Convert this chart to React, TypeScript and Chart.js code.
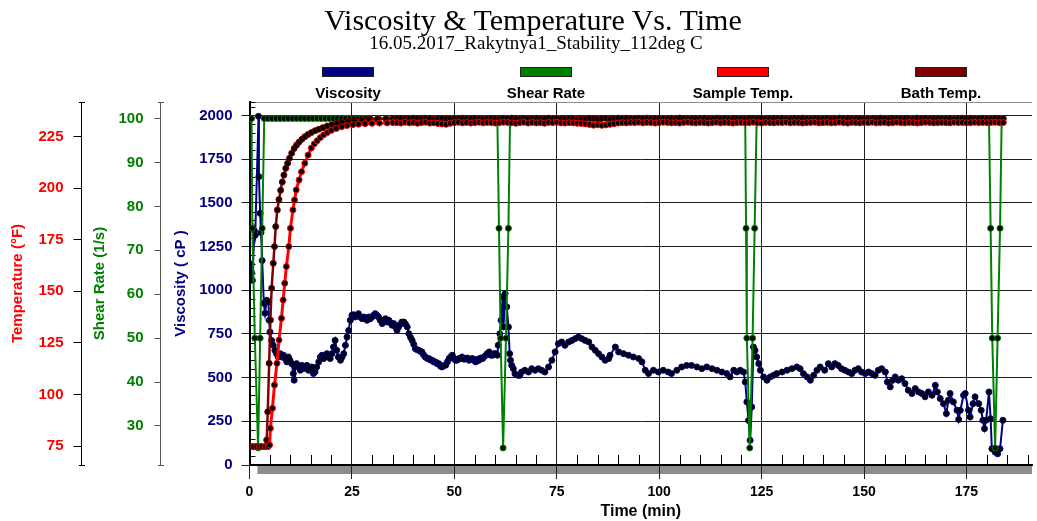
import React, { useEffect, useRef } from 'react';
import { Chart, registerables } from 'chart.js';
Chart.register(...registerables);

// ---------- tick labels ----------
const timeTicks = [0, 25, 50, 75, 100, 125, 150, 175];
const viscTicks = [0, 250, 500, 750, 1000, 1250, 1500, 1750, 2000];
const shearTicks = [30, 40, 50, 60, 70, 80, 90, 100];
const tempTicks = [75, 100, 125, 150, 175, 200, 225];

// ---------- Viscosity (cP) ----------
const viscTimes = [
  0.4, 0.5, 0.7, 1.2, 1.4, 2.2, 2.3, 2.6, 2.8, 3.1,
  3.5, 3.8, 4.2, 4.6, 4.8, 5.0, 5.4, 5.8, 6.2, 6.6,
  7.0, 7.5, 7.9, 8.3, 8.7, 9.1, 9.5, 9.9, 10.3, 10.7,
  10.9, 11.1, 11.5, 12.0, 12.4, 12.8, 13.2, 13.6, 14.0, 14.4,
  14.8, 15.2, 15.6, 16.0, 16.4, 16.9, 17.3, 17.7, 18.1, 18.5,
  18.9, 19.3, 19.7, 20.1, 20.5, 20.9, 21.3, 21.7, 22.2, 22.6,
  23.0, 23.4, 23.8, 24.2, 24.6, 25.0, 25.4, 25.8, 26.2, 26.6,
  27.0, 27.5, 27.9, 28.3, 28.7, 29.1, 29.5, 29.9, 30.3, 30.7,
  31.1, 31.5, 31.9, 32.4, 32.8, 33.2, 33.6, 34.0, 34.4, 34.8,
  35.2, 35.6, 36.0, 36.4, 36.8, 37.2, 37.7, 38.1, 38.5, 38.9,
  39.3, 39.7, 40.1, 40.5, 40.9, 41.3, 41.7, 42.1, 42.5, 42.9,
  43.4, 43.8, 44.2, 44.6, 45.0, 45.4, 45.8, 46.2, 46.6, 47.0,
  47.4, 47.9, 48.3, 48.7, 49.1, 49.5, 49.9, 50.3, 50.7, 51.1,
  51.5, 51.9, 52.4, 52.8, 53.2, 53.6, 54.0, 54.4, 54.8, 55.2,
  55.6, 56.0, 56.4, 56.9, 57.2, 57.7, 58.0, 58.5, 58.9, 59.3,
  59.7, 60.1, 60.5, 60.7, 61.1, 61.4, 61.8, 62.0, 62.4, 62.8,
  63.2, 63.5, 63.7, 64.0, 64.4, 64.8, 65.6, 66.0, 66.4, 67.2,
  68.1, 68.9, 69.7, 70.5, 71.3, 72.1, 73.0, 73.8, 74.6, 75.4,
  76.2, 77.0, 77.9, 78.7, 79.5, 80.3, 81.1, 81.9, 82.8, 83.6,
  84.4, 85.2, 86.0, 86.8, 87.7, 88.0, 89.3, 90.1, 91.3, 92.5,
  93.7, 95.0, 95.8, 96.6, 97.4, 98.6, 99.8, 101.0, 102.2, 103.0,
  104.3, 105.5, 106.7, 107.9, 109.2, 110.4, 111.6, 112.9, 114.1, 115.3,
  116.5, 117.3, 118.2, 119.0, 119.8, 120.6, 121.0, 121.4, 121.8, 122.2,
  122.6, 123.0, 123.4, 123.8, 124.3, 124.7, 125.5, 126.3, 127.1, 127.9,
  128.7, 130.0, 131.2, 132.4, 133.6, 134.4, 135.2, 136.1, 136.9, 137.7,
  138.5, 139.3, 140.4, 141.3, 142.1, 142.9, 143.7, 144.5, 145.3, 146.2,
  147.0, 147.8, 148.6, 149.4, 150.3, 151.1, 151.9, 152.7, 153.5, 154.3,
  155.2, 155.7, 156.4, 157.0, 157.6, 158.4, 159.2, 160.0, 160.8, 161.7,
  162.5, 163.3, 164.1, 164.9, 165.7, 166.6, 167.4, 167.9, 168.6, 169.4,
  170.1, 170.6, 171.0, 171.8, 172.7, 173.1, 173.5, 174.3, 174.7, 175.5,
  175.9, 176.6, 177.1, 178.0, 178.6, 179.0, 179.4, 179.8, 180.5, 180.9,
  181.2, 182.0, 182.6, 183.2, 183.9,
];
const viscValues = [
  1150, 1100, 1057, 1340, 1315, 1995, 1650, 1440, 1330, 1170,
  925, 868, 943, 933, 828, 761, 713, 685, 656, 637,
  618, 637, 618, 628, 609, 590, 618, 599, 580, 523,
  485, 561, 580, 561, 542, 570, 552, 561, 570, 542,
  552, 561, 523, 533, 561, 590, 618, 628, 609, 618,
  637, 628, 609, 637, 675, 713, 656, 618, 599, 618,
  637, 685, 732, 770, 828, 857, 860, 847, 857, 866,
  847, 837, 847, 837, 828, 847, 837, 847, 857, 866,
  857, 847, 828, 809, 828, 837, 818, 828, 815, 800,
  809, 790, 771, 790, 805, 818, 818, 805, 790, 751,
  730, 713, 690, 665, 660, 656, 650, 647, 630, 618,
  609, 609, 600, 599, 590, 590, 580, 580, 565, 561,
  570, 571, 590, 609, 618, 628, 609, 599, 600, 609,
  609, 618, 605, 609, 612, 599, 605, 609, 599, 590,
  605, 599, 612, 609, 618, 628, 637, 647, 628, 628,
  637, 637, 628, 685, 751, 828, 962, 790, 981, 905,
  790, 637, 599, 570, 551, 522, 513, 513, 532, 542,
  532, 551, 542, 551, 542, 532, 561, 599, 647, 694,
  704, 685, 704, 713, 723, 732, 723, 713, 704, 675,
  656, 637, 618, 599, 609, 628, 675, 647, 637, 628,
  618, 609, 590, 542, 523, 542, 532, 542, 532, 523,
  542, 561, 570, 570, 561, 551, 561, 551, 542, 532,
  523, 504, 542, 532, 542, 532, 475, 361, 255, 141,
  332, 675, 656, 618, 580, 542, 504, 485, 504, 513,
  523, 532, 542, 551, 561, 551, 523, 504, 485, 513,
  542, 561, 542, 580, 561, 580, 570, 551, 542, 532,
  523, 542, 551, 532, 523, 532, 523, 513, 542, 551,
  532, 475, 447, 485, 504, 485, 494, 466, 428, 409,
  437, 418, 409, 390, 418, 399, 456, 418, 380, 351,
  294, 371, 409, 361, 313, 261, 313, 399, 409, 313,
  275, 351, 390, 351, 313, 256, 208, 256, 418, 265,
  93, 74, 64, 93, 256,
];

// ---------- Shear Rate (1/s) ----------
const shearTimes = [
  0.5, 0.7, 1.3, 2.1, 2.6, 3.1, 3.6,
  4.5, 5.5, 6.5, 7.5, 8.5, 9.5, 10.5, 11.5, 12.5, 13.5,
  14.5, 15.5, 16.5, 17.5, 18.5, 19.5, 20.5, 21.5, 22.5, 23.5,
  24.5, 25.5, 26.5, 27.5, 28.5, 29.5,
  31.5, 33.5, 35.5, 37.5, 39.5, 41.5, 43.5, 45.5, 47.5, 49.5,
  51.5, 53.5, 55.5, 57.5, 59.5,
  60.5, 60.9, 61.3, 61.9, 62.6, 63.2, 63.6,
  65.5, 67.5, 69.5, 71.5, 73.5, 75.5, 77.5, 79.5, 81.5, 83.5,
  85.5, 87.5, 89.5, 91.5, 93.5, 95.5, 97.5, 99.5, 101.5, 103.5,
  105.5, 107.5, 109.5, 111.5, 113.5, 115.5, 117.5, 119.5,
  121.0, 121.2, 121.4, 122.1, 122.8, 123.3, 123.8,
  125.5, 127.5, 129.5, 131.5, 133.5, 135.5, 137.5, 139.5, 141.5, 143.5,
  145.5, 147.5, 149.5, 151.5, 153.5, 155.5, 157.5, 159.5, 161.5, 163.5,
  165.5, 167.5, 169.5, 171.5, 173.5, 175.5, 177.5, 179.5,
  180.5, 180.9, 181.3, 182.0, 182.6, 183.2, 183.6,
];
const shearValues = [
  100, 75, 50, 25, 50, 75, 100,
  100, 100, 100, 100, 100, 100, 100, 100, 100, 100,
  100, 100, 100, 100, 100, 100, 100, 100, 100, 100,
  100, 100, 100, 100, 100, 100,
  100, 100, 100, 100, 100, 100, 100, 100, 100, 100,
  100, 100, 100, 100, 100,
  100, 75, 50, 25, 50, 75, 100,
  100, 100, 100, 100, 100, 100, 100, 100, 100, 100,
  100, 100, 100, 100, 100, 100, 100, 100, 100, 100,
  100, 100, 100, 100, 100, 100, 100, 100,
  100, 75, 50, 25, 50, 75, 100,
  100, 100, 100, 100, 100, 100, 100, 100, 100, 100,
  100, 100, 100, 100, 100, 100, 100, 100, 100, 100,
  100, 100, 100, 100, 100, 100, 100, 100,
  100, 75, 50, 25, 50, 75, 100,
];

// ---------- Temperatures (°F) ----------
const sampleRiseTimes = [
  0.3, 1.0, 1.7, 2.4, 3.1, 3.8, 4.5,
  4.9, 5.1, 5.6, 6.1, 6.7, 7.2, 7.8, 8.2, 8.6, 9.0,
  9.6, 10.0, 10.6, 11.0, 11.4, 12.1, 12.7, 13.5, 14.3, 15.1,
  15.8, 16.5, 17.3, 18.1, 19.0, 20.0, 21.2, 22.5, 23.8, 25.2,
  26.6, 28.2, 29.9, 31.7, 33.6, 35.0,
];
const sampleRiseTemps = [
  74.7, 74.7, 74.7, 74.7, 74.7, 74.7, 74.7,
  75.5, 83.6, 93.3, 104.6, 115.1, 126.4, 136.9, 145.8, 153.9, 162.0,
  171.7, 180.6, 189.5, 194.3, 199.2, 204.0, 208.0, 212.1, 216.1, 219.5,
  221.5, 223.0, 224.6, 225.9, 227.0, 228.1, 229.0, 229.8, 230.4, 230.8,
  231.1, 231.3, 231.5, 231.6, 231.7, 231.8,
];
const bathRiseTimes = [
  0.3, 1.0, 1.7, 2.4, 3.1, 3.8,
  4.2, 4.45, 4.8, 5.1, 5.4, 5.8, 6.1, 6.4, 6.8, 7.2,
  7.6, 8.0, 8.4, 8.85, 9.3, 9.75, 10.3, 10.9, 11.5, 12.1,
  12.8, 13.5, 14.3, 15.1, 16.0, 16.9, 17.9, 19.0, 20.1, 21.3,
  22.6, 24.0, 25.6, 27.3, 29.2, 31.2, 33.3, 35.0,
];
const bathRiseTemps = [
  74.7, 74.7, 74.7, 74.7, 74.7, 74.7,
  77.9, 91.6, 115.1, 136.1, 151.5, 163.6, 171.7, 181.4, 189.5, 194.5,
  199.0, 203.0, 206.4, 209.7, 212.1, 214.5, 217.0, 219.3, 221.0, 222.4,
  223.8, 225.0, 226.1, 227.0, 227.9, 228.6, 229.4, 230.2, 230.8, 231.4,
  231.9, 232.4, 232.8, 233.1, 233.4, 233.6, 233.7, 233.8,
];
const plateauTimes = [
  36, 37, 38, 39, 40, 41, 42, 43, 44, 45, 46, 47, 48, 49,
  50, 51, 52, 53, 54, 55, 56, 57, 58, 59,
  60, 61, 62, 63, 64, 65, 66, 67, 68, 69,
  70, 71, 72, 73, 74, 75, 76, 77, 78, 79,
  80, 81, 82, 83, 84, 85, 86, 87, 88, 89,
  90, 91, 92, 93, 94, 95, 96, 97, 98, 99,
  100, 101, 102, 103, 104, 105, 106, 107, 108, 109,
  110, 111, 112, 113, 114, 115, 116, 117, 118, 119,
  120, 121, 122, 123, 124, 125, 126, 127, 128, 129,
  130, 131, 132, 133, 134, 135, 136, 137, 138, 139,
  140, 141, 142, 143, 144, 145, 146, 147, 148, 149,
  150, 151, 152, 153, 154, 155, 156, 157, 158, 159,
  160, 161, 162, 163, 164, 165, 166, 167, 168, 169,
  170, 171, 172, 173, 174, 175, 176, 177, 178, 179,
  180, 181, 182, 183, 184,
];
const samplePlateau = [
  231.8, 231.6, 232.0, 231.7, 231.9, 231.5, 231.8, 232.0, 231.6, 231.7, 231.4, 231.2, 231.0, 231.5,
  231.8, 232.0, 231.7, 231.9, 231.6, 231.8, 232.0, 231.7, 231.9, 231.8,
  231.6, 231.8, 232.0, 231.9, 231.7, 231.5, 231.8, 232.0, 231.6, 231.9,
  231.7, 231.8, 231.5, 231.9, 231.8, 232.0, 231.7, 231.6, 231.8, 231.7,
  231.5, 231.4, 231.2, 230.9, 230.6, 230.8, 230.5, 230.7, 231.0, 231.3,
  231.6, 231.8, 231.7, 231.9, 231.8, 232.0, 231.7, 231.9, 231.8, 231.6,
  231.8, 232.0, 231.9, 231.7, 231.8, 231.6, 231.9, 232.0, 231.8, 231.7,
  231.9, 231.8, 231.6, 231.8, 232.0, 231.7, 231.9, 231.8, 231.6, 231.8,
  231.9, 231.7, 231.8, 232.0, 231.8, 231.6, 231.9, 231.8, 231.7, 231.9,
  231.8, 232.0, 231.7, 231.9, 231.8, 231.6, 231.8, 231.9, 232.0, 231.7,
  231.8, 231.9, 231.7, 231.8, 232.0, 231.8, 231.6, 231.9, 231.8, 231.7,
  231.9, 231.8, 232.0, 231.7, 231.8, 231.9, 231.6, 231.8, 232.0, 231.8,
  231.7, 231.9, 231.8, 231.6, 231.8, 232.0, 231.9, 231.7, 231.8, 231.9,
  231.8, 231.7, 232.0, 231.8, 231.9, 231.7, 231.8, 232.0, 231.8, 231.9,
  231.8, 231.9, 232.0, 231.8, 231.9,
];
const bathPlateau = [
  233.8, 233.9, 233.7, 233.8, 234.0, 233.8, 233.7, 233.9, 233.8, 233.6, 233.8, 233.9, 233.7, 233.8,
  233.9, 233.8, 234.0, 233.7, 233.8, 233.9, 233.8, 233.6, 233.8, 233.9,
  233.8, 233.7, 233.9, 233.8, 234.0, 233.8, 233.7, 233.9, 233.8, 233.8,
  233.9, 233.7, 233.8, 234.0, 233.8, 233.9, 233.7, 233.8, 233.9, 233.8,
  233.6, 233.8, 233.7, 233.9, 233.8, 233.6, 233.8, 233.9, 233.7, 233.8,
  234.0, 233.8, 233.9, 233.7, 233.8, 233.9, 233.8, 234.0, 233.7, 233.8,
  233.9, 233.8, 233.7, 233.9, 233.8, 234.0, 233.8, 233.7, 233.9, 233.8,
  233.8, 233.9, 233.7, 233.8, 234.0, 233.8, 233.9, 233.7, 233.8, 233.9,
  233.8, 233.7, 233.9, 233.8, 233.8, 234.0, 233.7, 233.8, 233.9, 233.8,
  233.9, 233.8, 233.7, 233.9, 233.8, 234.0, 233.8, 233.7, 233.9, 233.8,
  233.8, 233.9, 233.7, 233.8, 234.0, 233.8, 233.9, 233.7, 233.8, 233.9,
  233.8, 233.7, 233.9, 233.8, 234.0, 233.8, 233.7, 233.9, 233.8, 233.8,
  233.9, 233.7, 233.8, 234.0, 233.8, 233.9, 233.7, 233.8, 233.9, 233.8,
  233.8, 233.9, 233.7, 233.8, 234.0, 233.8, 233.9, 233.7, 233.8, 233.9,
  233.8, 233.7, 233.9, 233.8, 233.8,
];

const SANS = "'Liberation Sans', Arial, Helvetica, sans-serif";
const SERIF = "'Liberation Serif', 'Times New Roman', serif";

const legendItems = [
  { label: 'Viscosity', color: '#000080', cx: 348 },
  { label: 'Shear Rate', color: '#008000', cx: 546 },
  { label: 'Sample Temp.', color: '#ff0000', cx: 743 },
  { label: 'Bath Temp.', color: '#800000', cx: 941 },
];

function pairs(ts: number[], vs: number[]) {
  return ts.map((t, i) => ({ x: t, y: vs[i] }));
}

const plain = (v: any) => String(v);

const decor = {
  id: 'decor',
  beforeDraw(chart: any) {
    const { ctx, chartArea } = chart;
    ctx.save();
    ctx.fillStyle = '#8c8c8c';
    ctx.fillRect(chartArea.left + 8, chartArea.bottom + 1, chartArea.right - chartArea.left - 8, 8);
    ctx.restore();
  },
  beforeDatasetsDraw(chart: any) {
    const { ctx, chartArea, scales } = chart;
    const { left, right, top, bottom } = chartArea;
    ctx.save();
    ctx.lineWidth = 1;
    ctx.strokeStyle = '#8c8c8c';
    ctx.beginPath();
    ctx.moveTo(left, Math.round(top) + 0.5);
    ctx.lineTo(right, Math.round(top) + 0.5);
    ctx.stroke();
    ctx.strokeStyle = '#000';
    ctx.beginPath();
    const xs = scales.x;
    for (let v = 5; v < xs.max; v += 5) {
      if (v % 25 === 0) continue;
      const px = Math.round(xs.getPixelForValue(v)) + 0.5;
      ctx.moveTo(px, bottom);
      ctx.lineTo(px, bottom - 10);
    }
    const yv = scales.yV;
    for (let v = 50; v < yv.max; v += 50) {
      if (v % 250 === 0) continue;
      const py = Math.round(yv.getPixelForValue(v)) + 0.5;
      ctx.moveTo(left, py);
      ctx.lineTo(left + 6, py);
    }
    ctx.moveTo(left, Math.round(top) + 0.5);
    ctx.lineTo(left + 6, Math.round(top) + 0.5);
    ctx.stroke();
    for (const id of ['yT', 'yS']) {
      const s = scales[id];
      const x = Math.round(s.right);
      ctx.strokeStyle = id === 'yS' ? '#555' : '#000';
      ctx.beginPath();
      ctx.moveTo(x - 3, Math.round(s.top) + 0.5);
      ctx.lineTo(x + 3, Math.round(s.top) + 0.5);
      ctx.moveTo(x - 3, Math.round(s.bottom) + 0.5);
      ctx.lineTo(x + 3, Math.round(s.bottom) + 0.5);
      ctx.stroke();
    }
    ctx.restore();
  },
};

const tickFont = { family: SANS, size: 15, weight: 'bold' as const };
const titleFont = { family: SANS, size: 15, weight: 'bold' as const };

export default function App() {
  const ref = useRef<HTMLCanvasElement | null>(null);

  useEffect(() => {
    if (!ref.current) return;
    const pt = (border: string) => ({
      pointRadius: 3,
      pointBackgroundColor: '#000',
      pointBorderColor: border,
      pointBorderWidth: 1,
      pointHoverRadius: 3,
    });
    const chart = new Chart(ref.current, {
      type: 'line',
      data: {
        datasets: [
          {
            label: 'Viscosity',
            data: pairs(viscTimes, viscValues),
            yAxisID: 'yV',
            borderColor: '#000080',
            borderWidth: 2,
            order: 3,
            ...pt('#000080'),
          },
          {
            label: 'Shear Rate',
            data: pairs(shearTimes, shearValues),
            yAxisID: 'yS',
            borderColor: '#008000',
            borderWidth: 2,
            order: 2,
            ...pt('#008000'),
          },
          {
            label: 'Sample Temp.',
            data: pairs([...sampleRiseTimes, ...plateauTimes], [...sampleRiseTemps, ...samplePlateau]),
            yAxisID: 'yT',
            borderColor: '#ff0000',
            borderWidth: 3,
            order: 0,
            ...pt('#ff0000'),
          },
          {
            label: 'Bath Temp.',
            data: pairs([...bathRiseTimes, ...plateauTimes], [...bathRiseTemps, ...bathPlateau]),
            yAxisID: 'yT',
            borderColor: '#800000',
            borderWidth: 2.5,
            order: 1,
            ...pt('#800000'),
          },
        ],
      },
      options: {
        responsive: false,
        animation: false,
        devicePixelRatio: 1,
        layout: { padding: { top: 102, right: 5, left: 0, bottom: 0 } },
        elements: { line: { tension: 0 } },
        plugins: { legend: { display: false }, tooltip: { enabled: false }, title: { display: false } },
        scales: {
          x: {
            type: 'linear',
            position: 'bottom',
            min: 0,
            max: 191,
            afterBuildTicks: (s: any) => { s.ticks = timeTicks.map((v) => ({ value: v })); },
            afterFit: (s: any) => { s.height = 56; },
            ticks: { color: '#000', font: { family: SANS, size: 14, weight: 'bold' }, padding: 5, maxRotation: 0, autoSkip: false, callback: plain },
            grid: { color: '#1e1e1e', lineWidth: 1, tickLength: 14 },
            border: { display: true, color: '#000', width: 2 },
            title: { display: true, text: 'Time (min)', color: '#000', font: { family: SANS, size: 16, weight: 'bold' }, padding: { top: 0, bottom: 0 } },
          },
          yT: {
            type: 'linear',
            position: 'left',
            weight: 3,
            min: 65.79,
            max: 241.83,
            afterBuildTicks: (s: any) => { s.ticks = tempTicks.map((v) => ({ value: v })); },
            afterFit: (s: any) => { s.width = 81.5; },
            ticks: { color: '#ff0000', font: tickFont, padding: 10, autoSkip: false, callback: plain },
            grid: { drawOnChartArea: false, tickLength: 8, color: '#000' },
            border: { display: true, color: '#000', width: 1 },
            title: { display: true, text: 'Temperature (°F)', color: '#ff0000', font: titleFont, padding: { top: 9, bottom: 0 } },
          },
          yS: {
            type: 'linear',
            position: 'left',
            weight: 2,
            min: 21.12,
            max: 103.76,
            afterBuildTicks: (s: any) => { s.ticks = shearTicks.map((v) => ({ value: v })); },
            afterFit: (s: any) => { s.width = 79; },
            ticks: { color: '#008000', font: tickFont, padding: 11, autoSkip: false, callback: plain },
            grid: { drawOnChartArea: false, tickLength: 6, color: '#555' },
            border: { display: true, color: '#555', width: 1 },
            title: { display: true, text: 'Shear Rate (1/s)', color: '#008000', font: titleFont, padding: { top: 9.5, bottom: 0 } },
          },
          yV: {
            type: 'linear',
            position: 'left',
            weight: 1,
            min: 0,
            max: 2077,
            afterBuildTicks: (s: any) => { s.ticks = viscTicks.map((v) => ({ value: v })); },
            afterFit: (s: any) => { s.width = 89; },
            ticks: { color: '#000080', font: tickFont, padding: 9, autoSkip: false, callback: plain },
            grid: { color: '#1e1e1e', lineWidth: 1, tickLength: 8 },
            border: { display: true, color: '#000', width: 2 },
            title: { display: true, text: 'Viscosity ( cP )', color: '#000080', font: titleFont, padding: { top: 11.5, bottom: 0 } },
          },
        },
      } as any,
      plugins: [decor],
    });
    return () => chart.destroy();
  }, []);

  return (
    <div style={{ position: 'fixed', left: 0, top: 0, width: 1037, height: 521, background: '#fff', overflow: 'hidden' }}>
      <canvas ref={ref} width={1037} height={521} style={{ position: 'absolute', left: 0, top: 0 }} />
      <div style={{ position: 'absolute', left: 233, top: 5, width: 600, textAlign: 'center', fontFamily: SERIF, fontSize: 30, lineHeight: '30px', color: '#000', whiteSpace: 'nowrap' }}>
        Viscosity &amp; Temperature Vs. Time
      </div>
      <div style={{ position: 'absolute', left: 236, top: 33, width: 600, textAlign: 'center', fontFamily: SERIF, fontSize: 19, lineHeight: '19px', color: '#000', whiteSpace: 'nowrap' }}>
        16.05.2017_Rakytnya1_Stability_112deg C
      </div>
      {legendItems.map((it) => (
        <React.Fragment key={it.label}>
          <div style={{ position: 'absolute', left: it.cx - 26, top: 67, width: 52, height: 10, boxSizing: 'border-box', background: it.color, border: '1px solid #222' }} />
          <div style={{ position: 'absolute', left: it.cx - 100, top: 84.5, width: 200, textAlign: 'center', fontFamily: SANS, fontWeight: 'bold', fontSize: 15, lineHeight: '15px', color: '#000', whiteSpace: 'nowrap' }}>
            {it.label}
          </div>
        </React.Fragment>
      ))}
    </div>
  );
}
